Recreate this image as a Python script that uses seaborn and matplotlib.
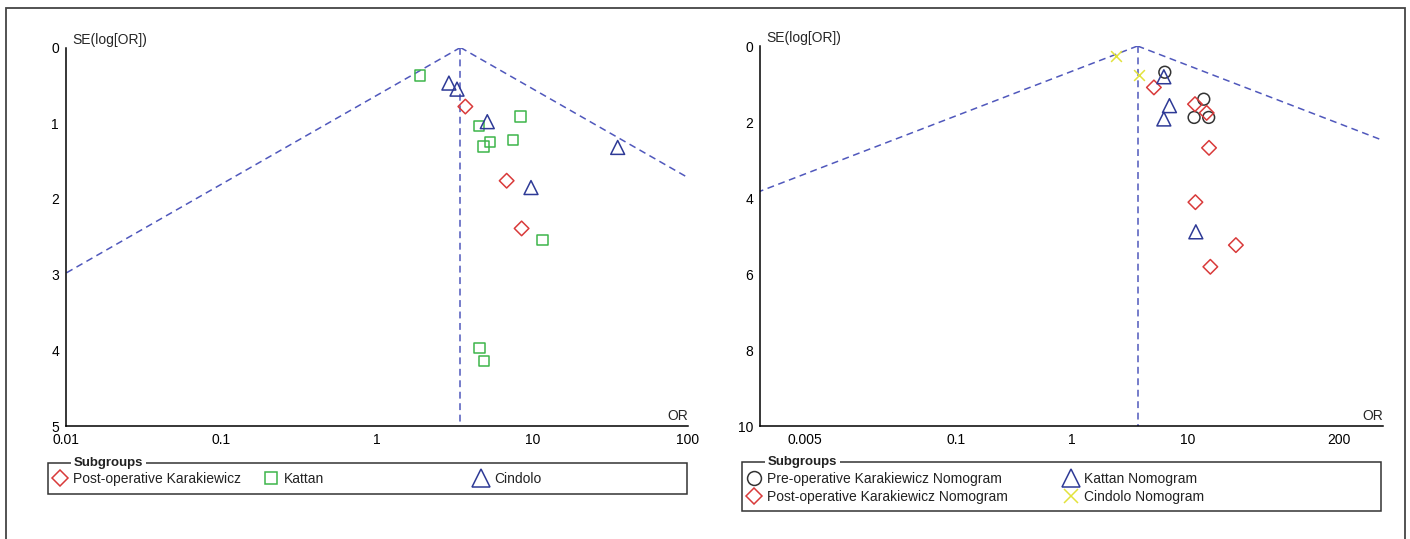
import numpy as np
import pandas as pd
import seaborn as sns
import matplotlib.pyplot as plt
from matplotlib.lines import Line2D
from matplotlib.patches import Rectangle
from matplotlib.ticker import NullLocator

# ---- data ----
# left panel
l_post_or = [3.70, 6.82, 8.51]
l_post_se = [0.78, 1.76, 2.39]
l_kattan_or = [1.89, 8.36, 4.51, 7.46, 5.33, 4.83, 11.6, 4.57, 4.89]
l_kattan_se = [0.37, 0.91, 1.04, 1.22, 1.25, 1.31, 2.54, 3.97, 4.14]
l_cindolo_or = [2.90, 3.27, 5.12, 35.3, 9.78]
l_cindolo_se = [0.47, 0.55, 0.98, 1.32, 1.85]
l_pooled = 3.44

# right panel
r_pre_or = [6.32, 13.7, 11.3, 15.1]
r_pre_se = [0.69, 1.40, 1.88, 1.88]
r_post_or = [5.09, 11.5, 14.5, 15.2, 11.6, 25.9, 15.6]
r_post_se = [1.09, 1.53, 1.76, 2.68, 4.11, 5.24, 5.81]
r_kattan_or = [6.2, 6.93, 6.2, 11.7]
r_kattan_se = [0.81, 1.57, 1.92, 4.89]
r_cindolo_or = [2.42, 3.78]
r_cindolo_se = [0.26, 0.76]
r_pooled = 3.68

l_xticks = [0.01, 0.1, 1, 10, 100]
l_xlabels = ['0.01', '0.1', '1', '10', '100']
r_xticks = [0.005, 0.1, 1, 10, 200]
r_xlabels = ['0.005', '0.1', '1', '10', '200']

RED, GREEN, BLUE, BLACK, YELLOW = '#D93A3A', '#3DB54A', '#2E3A96', '#333333', '#E2E23C'
DASH = '#5058BC'

sns.set_style('white')
plt.rcParams['font.family'] = ['Liberation Sans', 'DejaVu Sans']

W, H = 1410, 539
def fx(px):
    return px / W
def fy(py):
    return 1 - py / H

fig = plt.figure(figsize=(W / 100, H / 100), dpi=100)
ax1 = fig.add_axes([fx(66), fy(426), (688 - 66) / W, (426 - 47.5) / H])
ax2 = fig.add_axes([fx(760), fy(426), (1383 - 760) / W, (426 - 46) / H])


def draw_panel(ax, groups, pooled, xlim, ymax, xticks, xlabels, yticks):
    for ors, ses, marker, color, size in groups:
        df = pd.DataFrame({'OR': ors, 'SE': ses})
        if marker == 'x':
            kw = dict(color=color)
        else:
            kw = dict(color=color, facecolor='none', edgecolor=color)
        sns.scatterplot(data=df, x='OR', y='SE', marker=marker, s=size,
                        linewidth=1.1, ax=ax, zorder=3, **kw)
    # funnel (95% limits) and pooled estimate
    se = np.linspace(0, ymax, 200)
    for sign in (-1, 1):
        ax.plot(pooled * np.exp(sign * 1.96 * se), se, color=DASH, lw=1.1,
                dashes=(4.5, 3), zorder=2)
    ax.plot([pooled, pooled], [0, ymax], color=DASH, lw=1.1, dashes=(4.5, 3), zorder=2)

    ax.set_xscale('log')
    ax.set_xlim(*xlim)
    ax.set_ylim(ymax, 0)
    ax.set_xticks(xticks, labels=xlabels)
    ax.xaxis.set_minor_locator(NullLocator())
    ax.set_yticks(yticks)
    ax.set_xlabel('')
    ax.set_ylabel('')
    ax.spines[['top', 'right']].set_visible(False)
    for s in ('left', 'bottom'):
        ax.spines[s].set_color('black')
        ax.spines[s].set_linewidth(1.1)
    ax.tick_params(axis='both', direction='inout', length=6, width=1.0,
                   labelsize=10, colors='black')
    ax.tick_params(axis='x', pad=2)
    ax.tick_params(axis='y', pad=2)
    for t in ax.get_yticklabels():
        t.set_verticalalignment('center_baseline')
    ax.annotate('SE(log[OR])', xy=(0, 1), xycoords='axes fraction', xytext=(4.5, 5.5),
                textcoords='offset points', ha='left', va='center', fontsize=10)
    ax.annotate('OR', xy=(1, 0), xycoords='axes fraction', xytext=(0, 7),
                textcoords='offset points', ha='right', va='center', fontsize=10)


draw_panel(ax1,
           [(l_post_or, l_post_se, 'D', RED, 55),
            (l_kattan_or, l_kattan_se, 's', GREEN, 56),
            (l_cindolo_or, l_cindolo_se, '^', BLUE, 100)],
           l_pooled, (0.01, 100), 5, l_xticks, l_xlabels, range(0, 6))

draw_panel(ax2,
           [(r_pre_or, r_pre_se, 'o', BLACK, 72),
            (r_post_or, r_post_se, 'D', RED, 55),
            (r_kattan_or, r_kattan_se, '^', BLUE, 100),
            (r_cindolo_or, r_cindolo_se, 'x', YELLOW, 60)],
           r_pooled, (0.00205, 480), 10, r_xticks, r_xlabels, range(0, 11, 2))

# ---- legends ("Subgroups" boxes) ----
markers = {'D': 8.0, 's': 8.6, '^': 12.5, 'o': 10, 'x': 9.6}
legend_entries = [
    # label, marker, color, marker x px, row y px
    ('Post-operative Karakiewicz', 'D', RED, 60, 479),
    ('Kattan', 's', GREEN, 271, 479),
    ('Cindolo', '^', BLUE, 481, 479),
    ('Pre-operative Karakiewicz Nomogram', 'o', BLACK, 754, 479),
    ('Post-operative Karakiewicz Nomogram', 'D', RED, 754, 496.5),
    ('Kattan Nomogram', '^', BLUE, 1071, 479),
    ('Cindolo Nomogram', 'x', YELLOW, 1071, 496.5),
]
for label, m, c, mx, my in legend_entries:
    h = Line2D([], [], marker=m, linestyle='none', markersize=markers[m],
               markerfacecolor='none', markeredgecolor=c, color=c, markeredgewidth=1.1)
    leg = fig.legend(handles=[h], labels=[label], loc='center left',
                     bbox_to_anchor=(fx(mx - 7), fy(my)), frameon=False,
                     handlelength=1.0, handletextpad=0.43, borderpad=0,
                     borderaxespad=0, fontsize=10)
    for t in leg.get_texts():
        t.set_color('#222222')

for x0, y0, x1, y1 in [(48, 463, 687, 494), (742, 462, 1381, 511)]:
    fig.add_artist(Rectangle((fx(x0), fy(y1)), (x1 - x0) / W, (y1 - y0) / H,
                             transform=fig.transFigure, fill=False, lw=1.1, ec='#333333'))
    fig.text(fx(x0 + 26), fy(y0), 'Subgroups', fontsize=9.5, fontweight='bold',
             color='#222222', ha='left', va='center',
             bbox=dict(fc='white', ec='none', pad=2))

# outer frame of the figure
fig.add_artist(Rectangle((fx(6), -0.1), (1405 - 6) / W, fy(8) + 0.1,
                         transform=fig.transFigure, fill=False, lw=1.3,
                         ec='#444444', clip_on=False))

fig.savefig('out.png', dpi=100)
